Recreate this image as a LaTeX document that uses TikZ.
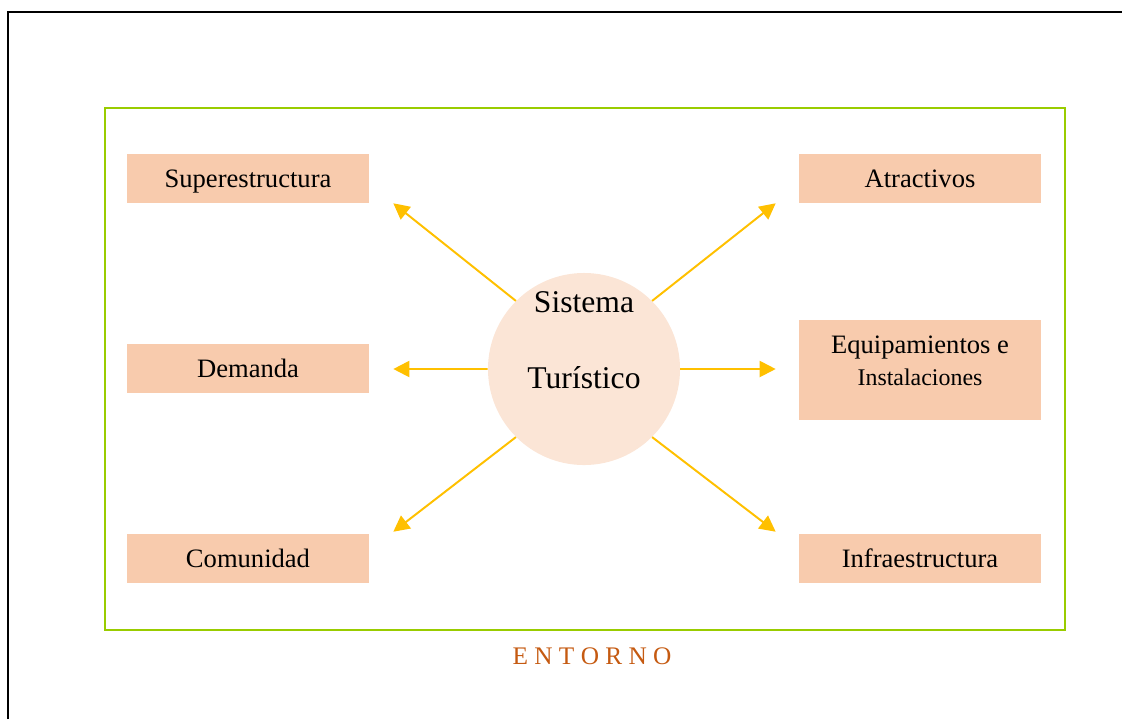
\documentclass[tikz,border=0pt]{standalone}
\usepackage{fontspec}
\setmainfont{Liberation Serif}
\usepackage{xcolor}
\usetikzlibrary{calc,positioning,arrows.meta,shapes}

\definecolor{caja}{RGB}{248,203,173}
\definecolor{centro}{RGB}{251,229,214}
\definecolor{verde}{RGB}{153,204,0}
\definecolor{flechacol}{RGB}{255,192,0}
\definecolor{naranja}{RGB}{197,90,17}

\tikzset{
    bloque/.style={fill=caja, minimum width=6.05cm, minimum height=1.225cm, inner sep=0pt,
        text depth=0pt, font=\fontsize{18.9}{22}\selectfont},
    flecha/.style={draw=flechacol, line width=1.4pt, -{Triangle[length=0.4cm, width=0.4cm]}}
}

\begin{document}
\begin{tikzpicture}[x=0.025cm, y=-0.025cm]
        \useasboundingbox (0, 0) rectangle (1122, 719);
        \draw[line width=1.4pt] (8, 719) to (8, 12) to (1122, 12);
        \draw[verde, line width=1.4pt] (105, 108) rectangle (1065, 630);

        %%centre
        \node[circle, fill=centro, minimum size=4.8cm, inner sep=0pt] (sist) at (584, 369){};
            \node[font=\fontsize{22.5}{26}\selectfont] (sistema) at (584, 302){Sistema};
            \node[font=\fontsize{22.5}{26}\selectfont] (turistico) at (584, 378){Turístico};

        %%left
        \node[bloque] (super) at (248, 178.5){Superestructura};
        \node[bloque] (demanda) at (248, 368.5){Demanda};
        \node[bloque] (comun) at (248, 558.5){Comunidad};

        %%right
        \node[bloque] (atrac) at (920, 178.5){Atractivos};
        \node[bloque, minimum height=2.5cm] (equip) at (920, 370){};
            \node[font=\fontsize{18.9}{22}\selectfont] (equiptxt) at (920, 348){Equipamientos e};
            \node[font=\fontsize{17}{20}\selectfont] (instal) at (920, 377){Instalaciones};
        \node[bloque] (infra) at (920, 558.5){Infraestructura};

        %%arrows
        \draw[flecha] (sist.135) to ($(super.south east)+(24, 0)$);
        \draw[flecha] (sist.180) to ($(demanda.east)+(24, 0.5)$);
        \draw[flecha] (sist.225) to ($(comun.north east)+(24, -2)$);
        \draw[flecha] (sist.45) to ($(atrac.south west)+(-23, 0)$);
        \draw[flecha] (sist.0) to ($(equip.west)+(-23, -1)$);
        \draw[flecha] (sist.315) to ($(infra.north west)+(-23, -2)$);

        \node[naranja, font=\fontsize{18}{21}\selectfont] (entorno) at (592, 656){E N T O R N O};
\end{tikzpicture}
\end{document}
